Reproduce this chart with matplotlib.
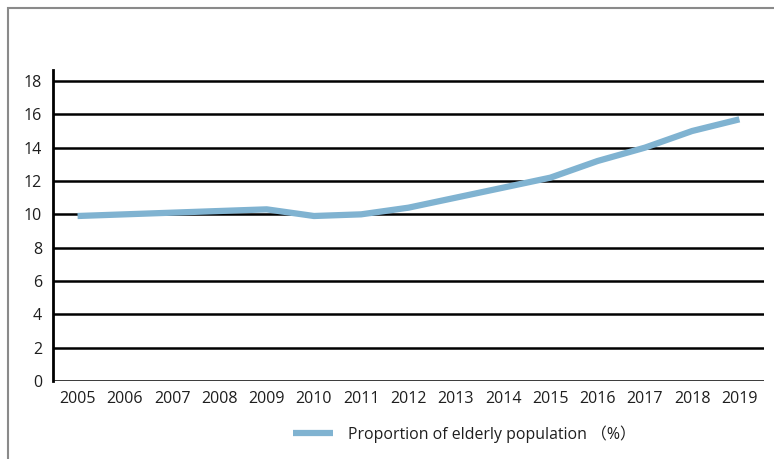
import matplotlib

matplotlib.use("Agg")
import matplotlib.pyplot as plt
from matplotlib.patches import Rectangle

plt.rcParams["font.family"] = ["Open Sans", "Noto Sans CJK SC", "DejaVu Sans"]

years = ["2005", "2006", "2007", "2008", "2009", "2010", "2011", "2012",
         "2013", "2014", "2015", "2016", "2017", "2018", "2019"]
elderly = [9.9, 10.0, 10.1, 10.2, 10.3, 9.9, 10.0, 10.4,
           11.0, 11.6, 12.2, 13.2, 14.0, 15.0, 15.7]
yticks = [0, 2, 4, 6, 8, 10, 12, 14, 16, 18]

W, H = 774, 459
fig = plt.figure(figsize=(W / 100, H / 100), dpi=100)
# outer frame
fig.patches.append(Rectangle((8 / W, -0.05), 1.0, 1 - 8 / H + 0.05,
                             transform=fig.transFigure, fill=False,
                             edgecolor="#8a8a8a", lw=1.5))
ax = fig.add_axes([53 / W, 1 - 381 / H, (764 - 53) / W, (381 - 70) / H])

x = list(range(len(years)))
for t in yticks:
    ax.axhline(t, color="black", lw=1.8, zorder=1)
ax.plot(x, elderly, color="#80b3d1", lw=4.5, solid_capstyle="butt",
        label="Proportion of elderly population （%）", zorder=3)

ax.set_xlim(-0.52, len(years) - 0.48)
ax.set_ylim(0, 18.66)
ax.set_xticks(x)
ax.set_xticklabels(years)
ax.set_yticks(yticks)
ax.tick_params(axis="both", length=0, labelsize=11.5, colors="#1e1e1e")
ax.tick_params(axis="x", pad=7)
ax.tick_params(axis="y", pad=8)
for s in ["top", "right", "bottom"]:
    ax.spines[s].set_visible(False)
ax.spines["left"].set_linewidth(2)
ax.spines["left"].set_color("black")

fig.legend(loc="center left", bbox_to_anchor=(293 / W, 1 - 434 / H),
           frameon=False, fontsize=11.4, handlelength=2.55,
           handletextpad=0.9, borderpad=0, borderaxespad=0,
           labelcolor="#1e1e1e")

fig.savefig("out.png", dpi=100)
